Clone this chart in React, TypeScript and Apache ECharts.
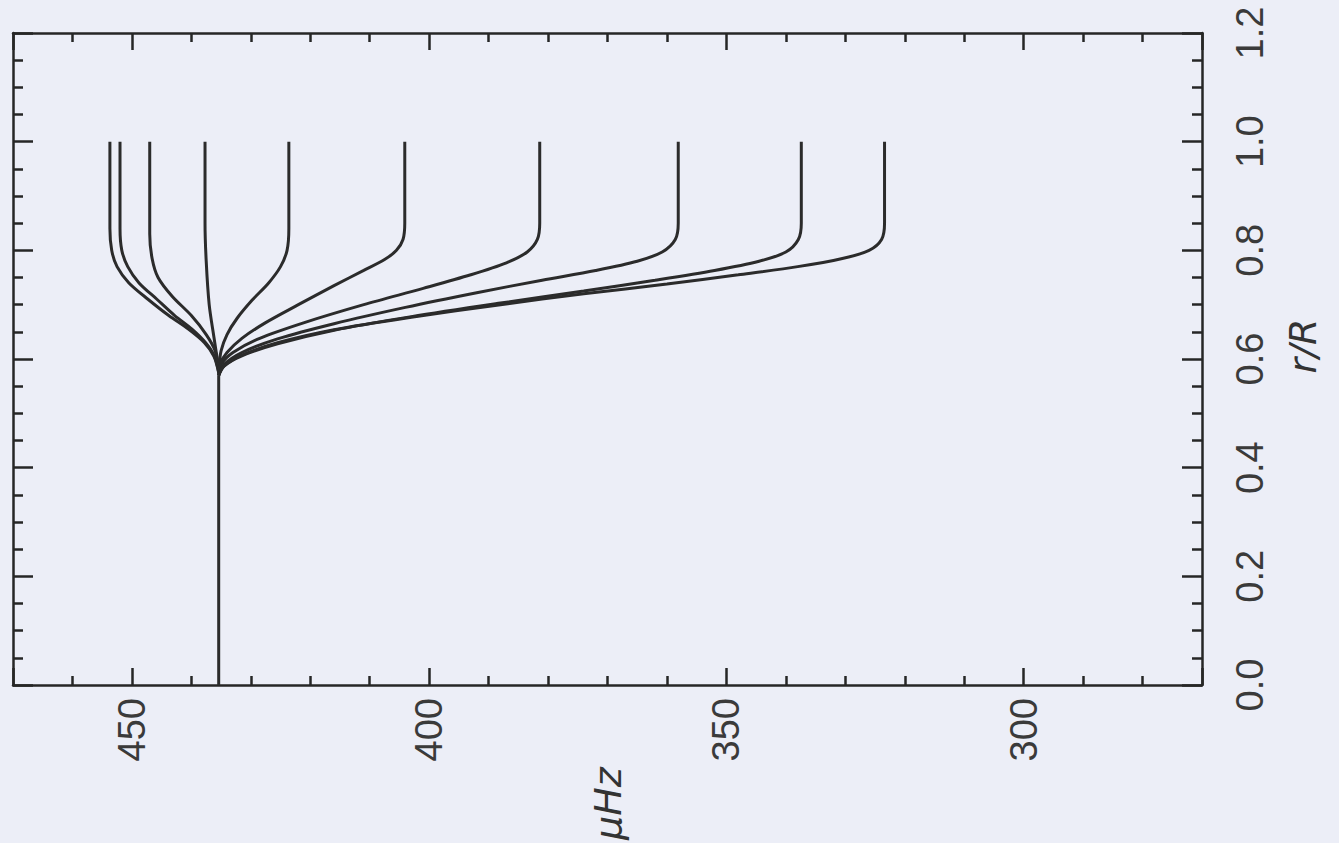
import React, { useEffect, useRef } from "react";
import * as echarts from "echarts";

// Frequency (μHz) vs fractional radius r/R
const trunk: number[][] = [[435.4, 0.0], [435.4, 0.57]];
const curve1: number[][] = [[435.4, 0.575], [436.2, 0.605], [437.8, 0.63], [440.5, 0.655], [443.8, 0.68], [447.3, 0.71], [450.5, 0.74], [452.5, 0.77], [453.4, 0.8], [453.7, 0.84], [453.7, 1.0]];
const curve2: number[][] = [[435.4, 0.575], [436.1, 0.605], [437.6, 0.63], [439.9, 0.655], [442.8, 0.68], [445.8, 0.71], [448.8, 0.74], [450.7, 0.77], [451.7, 0.8], [452.0, 0.84], [452.0, 1.0]];
const curve3: number[][] = [[435.4, 0.58], [436, 0.615], [437.5, 0.645], [440, 0.68], [443.2, 0.715], [445.6, 0.75], [446.6, 0.785], [447.0, 0.83], [447.0, 1.0]];
const curve4: number[][] = [[435.5, 0.59], [436.2, 0.64], [437.0, 0.7], [437.5, 0.78], [437.7, 0.85], [437.7, 1.0]];
const curve5: number[][] = [[435.4, 0.58], [435.0, 0.615], [434.0, 0.645], [432.3, 0.675], [429.8, 0.708], [427.0, 0.74], [425.0, 0.77], [423.9, 0.8], [423.6, 0.84], [423.6, 1.0]];
const curve6: number[][] = [[435.4, 0.57], [435.2, 0.59], [434.0, 0.612], [431.5, 0.638], [427.5, 0.667], [422, 0.7], [416, 0.735], [411, 0.763], [407.5, 0.783], [405.5, 0.8], [404.4, 0.82], [404.1, 0.85], [404.1, 1.0]];
const curve7: number[][] = [[435.4, 0.57], [435, 0.59], [433, 0.612], [428.5, 0.638], [421, 0.667], [411, 0.7], [401, 0.73], [393, 0.755], [387, 0.777], [383.5, 0.797], [381.8, 0.82], [381.4, 0.85], [381.4, 1.0]];
const curve8: number[][] = [[435.4, 0.57], [434.5, 0.59], [431.5, 0.612], [425.5, 0.637], [416, 0.665], [404, 0.695], [392, 0.722], [381, 0.745], [372, 0.763], [365, 0.78], [360.8, 0.797], [358.6, 0.82], [358.1, 0.85], [358.1, 1.0]];
const curve9: number[][] = [[435.4, 0.57], [434.5, 0.587], [431.5, 0.606], [425.5, 0.628], [416, 0.653], [403, 0.678], [388, 0.703], [374, 0.725], [362, 0.745], [352, 0.763], [344.5, 0.78], [340, 0.797], [337.9, 0.82], [337.4, 0.85], [337.4, 1.0]];
const curve10: number[][] = [[435.4, 0.57], [434.5, 0.587], [431.5, 0.607], [425.5, 0.63], [416, 0.654], [403, 0.677], [388, 0.7], [374, 0.72], [360, 0.738], [348, 0.755], [338, 0.77], [330.5, 0.785], [326, 0.8], [323.9, 0.82], [323.4, 0.85], [323.4, 1.0]];

const curves = [trunk, curve1, curve2, curve3, curve4, curve5, curve6, curve7, curve8, curve9, curve10];

const X_NAME = "μHz";
const Y_NAME = "r/R";

export default function App() {
  const ref = useRef<HTMLDivElement>(null);
  useEffect(() => {
    if (!ref.current) return;
    const chart = echarts.init(ref.current, undefined, { renderer: "svg" });
    const axisColor = "#262626";
    const textColor = "#3a3a3a";
    const baseX = {
      type: "value" as const,
      min: 270,
      max: 470,
      inverse: true,
      minInterval: 50,
      maxInterval: 50,
      splitLine: { show: false },
      axisLine: { show: true, onZero: false, lineStyle: { color: axisColor, width: 2.5 } },
      axisTick: { show: true, inside: true, length: 17, lineStyle: { color: axisColor, width: 2.5 } },
      minorTick: { show: true, splitNumber: 5, length: 9, lineStyle: { color: axisColor, width: 2.5 } },
    };
    const baseY = {
      type: "value" as const,
      min: 0,
      max: 1.2,
      interval: 0.2,
      splitLine: { show: false },
      axisLine: { show: true, onZero: false, lineStyle: { color: axisColor, width: 2.5 } },
      axisTick: { show: true, inside: true, length: 20, lineStyle: { color: axisColor, width: 2.5 } },
      minorTick: { show: true, splitNumber: 4, length: 10, lineStyle: { color: axisColor, width: 2.5 } },
    };
    chart.setOption({
      animation: false,
      backgroundColor: "#eceef7",
      grid: { left: 13, right: 137, top: 33, bottom: 153, containLabel: false },
      xAxis: [
        {
          ...baseX,
          position: "bottom",
          name: X_NAME,
          nameLocation: "middle",
          nameRotate: 90,
          nameGap: 68,
          nameTextStyle: { color: "#333", fontSize: 38, fontFamily: "DejaVu Sans", fontStyle: "italic" },
          axisLabel: {
            show: true,
            rotate: 90,
            margin: 13,
            showMinLabel: false,
            showMaxLabel: false,
            color: textColor,
            fontSize: 38,
            fontFamily: "Liberation Sans",
          },
        },
        {
          ...baseX,
          position: "top",
          axisLabel: { show: false },
        },
      ],
      yAxis: [
        {
          ...baseY,
          position: "right",
          name: Y_NAME,
          nameLocation: "middle",
          nameRotate: 90,
          nameGap: 82,
          nameTextStyle: { color: "#333", fontSize: 38, fontFamily: "DejaVu Sans", fontStyle: "italic", padding: [0, 0, 0, 26] },
          axisLabel: {
            show: true,
            rotate: 90,
            margin: 29,
            color: textColor,
            fontSize: 38,
            fontFamily: "Liberation Sans",
            formatter: (v: number) => v.toFixed(1),
          },
        },
        {
          ...baseY,
          position: "left",
          axisLabel: { show: false },
        },
      ],
      series: curves.map((c) => ({
        type: "line",
        xAxisIndex: 0,
        yAxisIndex: 0,
        data: c,
        showSymbol: false,
        symbol: "none",
        smooth: 0.3,
        lineStyle: { color: "#2b2b2b", width: 3 },
      })),
    });
    return () => chart.dispose();
  }, []);
  return (
    <div
      ref={ref}
      style={{ position: "fixed", left: 0, top: 0, width: 1339, height: 843 }}
    />
  );
}
